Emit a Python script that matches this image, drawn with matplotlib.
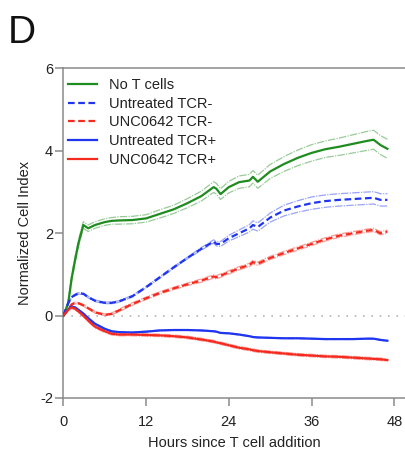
import numpy as np
import matplotlib
matplotlib.use("Agg")
import matplotlib.pyplot as plt

plt.rcParams["font.family"] = ["Liberation Sans", "DejaVu Sans"]
plt.rcParams["axes.unicode_minus"] = False

# hours since T cell addition
hours = [0, 0.7, 1.2, 1.7, 2.2, 2.9, 3.6, 4.6, 6, 7, 8, 10, 12, 14, 16, 18, 20,
         21.8, 22.2, 22.8, 24, 25.5, 27, 27.5, 28.2, 30, 32, 34, 36, 38, 40,
         42, 44, 45, 46, 47]

no_t = [0, 0.3, 0.9, 1.35, 1.76, 2.2, 2.12, 2.2, 2.27, 2.3, 2.31, 2.32, 2.36,
        2.47, 2.58, 2.73, 2.9, 3.12, 3.08, 2.95, 3.12, 3.24, 3.28, 3.37, 3.25,
        3.5, 3.68, 3.83, 3.95, 4.04, 4.1, 4.17, 4.24, 4.27, 4.14, 4.05]
no_t_sd = [0, 0.05, 0.07, 0.08, 0.08, 0.08, 0.08, 0.08, 0.08, 0.08, 0.09,
           0.09, 0.09, 0.1, 0.1, 0.11, 0.12, 0.13, 0.13, 0.13, 0.14, 0.15,
           0.15, 0.15, 0.16, 0.17, 0.18, 0.19, 0.2, 0.2, 0.21, 0.22, 0.23,
           0.23, 0.23, 0.23]

untr_neg = [0, 0.3, 0.45, 0.5, 0.54, 0.53, 0.45, 0.36, 0.31, 0.31, 0.34, 0.47,
            0.69, 0.93, 1.17, 1.4, 1.62, 1.8, 1.74, 1.74, 1.88, 2.0, 2.12, 2.2,
            2.15, 2.38, 2.55, 2.65, 2.73, 2.78, 2.81, 2.83, 2.85, 2.86, 2.81,
            2.81]
untr_neg_sd = [0, 0.02, 0.02, 0.02, 0.02, 0.02, 0.02, 0.02, 0.02, 0.02, 0.02,
               0.02, 0.02, 0.02, 0.02, 0.02, 0.03, 0.04, 0.05, 0.06, 0.07,
               0.08, 0.09, 0.1, 0.1, 0.11, 0.13, 0.14, 0.15, 0.15, 0.15, 0.15,
               0.15, 0.15, 0.15, 0.15]

unc_neg = [0, 0.15, 0.27, 0.31, 0.3, 0.25, 0.18, 0.08, 0.02, 0.04, 0.12, 0.28,
           0.42, 0.55, 0.66, 0.76, 0.85, 0.95, 0.93, 0.97, 1.05, 1.15, 1.23,
           1.3, 1.26, 1.4, 1.52, 1.63, 1.74, 1.85, 1.94, 2.0, 2.06, 2.08, 2.0,
           2.04]
unc_neg_sd = [0, 0.02, 0.02, 0.02, 0.02, 0.02, 0.02, 0.02, 0.02, 0.02, 0.03,
              0.03, 0.03, 0.03, 0.03, 0.03, 0.04, 0.04, 0.04, 0.04, 0.04, 0.04,
              0.04, 0.04, 0.04, 0.04, 0.04, 0.04, 0.04, 0.04, 0.04, 0.04, 0.04,
              0.04, 0.04, 0.04]

untr_pos = [0, 0.15, 0.22, 0.2, 0.14, 0.05, -0.06, -0.2, -0.32, -0.38, -0.4,
            -0.41, -0.39, -0.36, -0.35, -0.35, -0.36, -0.38, -0.39, -0.42,
            -0.43, -0.46, -0.5, -0.52, -0.53, -0.54, -0.55, -0.55, -0.56,
            -0.57, -0.57, -0.57, -0.56, -0.56, -0.59, -0.61]
untr_pos_sd = [0.01] * len(hours)

unc_pos = [0, 0.14, 0.2, 0.17, 0.1, 0.0, -0.12, -0.27, -0.38, -0.44, -0.46,
           -0.46, -0.47, -0.48, -0.5, -0.53, -0.58, -0.63, -0.65, -0.67,
           -0.72, -0.78, -0.82, -0.84, -0.86, -0.89, -0.92, -0.95, -0.97,
           -0.99, -1.0, -1.02, -1.04, -1.05, -1.06, -1.08]
unc_pos_sd = [0.03] * len(hours)

GREEN = "#1e8c1e"
BLUE = "#1f35f0"
RED = "#f52a1f"
SPINE = "#8a8a8a"
TEXT = "#222222"


def main():
    fig = plt.figure(figsize=(4.06, 4.55), dpi=100)
    ax = fig.add_axes([0.156, 0.1253, 0.844, 0.7242])

    h = np.array(hours)
    series = [
        ("No T cells", no_t, no_t_sd, GREEN, "-"),
        ("Untreated TCR-", untr_neg, untr_neg_sd, BLUE, (0, (3, 1.6))),
        ("UNC0642 TCR-", unc_neg, unc_neg_sd, RED, (0, (3, 1.6))),
        ("Untreated TCR+", untr_pos, untr_pos_sd, BLUE, "-"),
        ("UNC0642 TCR+", unc_pos, unc_pos_sd, RED, "-"),
    ]

    ax.axhline(0, color="#b5b5b5", linestyle=(0, (1, 4)), linewidth=1.2,
               zorder=1)

    for label, mean, sd, color, ls in series:
        mean = np.array(mean)
        sd = np.array(sd)
        for sign in (1, -1):
            ax.plot(h, mean + sign * sd, color=color, linewidth=0.9,
                    alpha=0.45, linestyle=(0, (6, 1, 1, 1)), zorder=2)
        ax.plot(h, mean, color=color, linewidth=1.6, linestyle=ls,
                label=label, zorder=3)

    ax.set_xlim(0, 49.7)
    ax.set_ylim(-2, 6)
    ax.set_xticks([0, 12, 24, 36, 48])
    ax.set_yticks([-2, 0, 2, 4, 6])

    ax.spines["right"].set_visible(False)
    for side in ("left", "bottom", "top"):
        ax.spines[side].set_color(SPINE)
        ax.spines[side].set_linewidth(1.1)
    ax.tick_params(axis="both", colors=SPINE, labelcolor=TEXT, labelsize=10.5,
                   length=5.5, width=1.1)
    ax.tick_params(axis="x", pad=7)
    ax.tick_params(axis="y", pad=2)
    ax.tick_params(top=False)

    ax.set_xlabel("Hours since T cell addition", fontsize=10.5, color=TEXT,
                  labelpad=5)
    ax.set_ylabel("Normalized Cell Index", fontsize=10.5, color=TEXT,
                  labelpad=6)

    ax.legend(loc="upper left", bbox_to_anchor=(0.0, 0.985), frameon=False,
              fontsize=10.5, handlelength=2.0, handletextpad=0.85,
              labelspacing=0.33, borderaxespad=0.15, borderpad=0.15,
              labelcolor=TEXT)

    fig.text(0.02, 1 - 42.7 / 455, "D", fontsize=28, color="#111111",
             va="baseline", ha="left")

    fig.savefig("out.png", dpi=100)
    plt.close(fig)


if __name__ == "__main__":
    main()
